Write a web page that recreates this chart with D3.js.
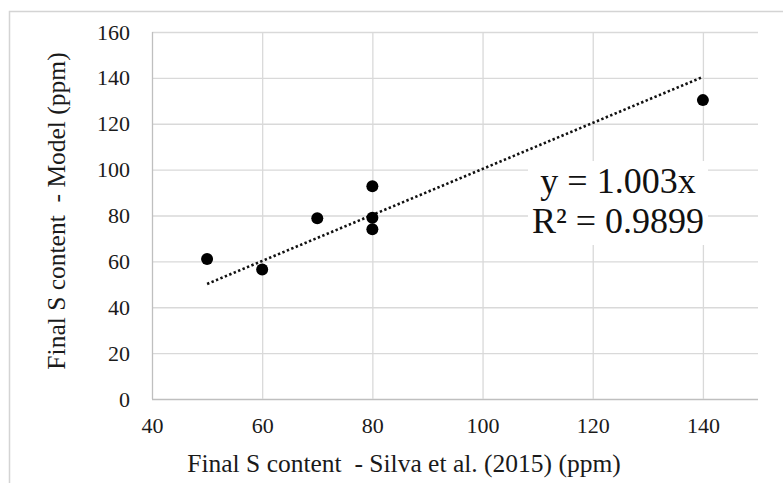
<!DOCTYPE html>
<html>
<head>
<meta charset="utf-8">
<script src="https://cdn.jsdelivr.net/npm/d3@7"></script>
<style>
body{margin:0;background:#fff;}
</style>
</head>
<body>
<svg id="chart" width="783" height="483"></svg>
<script>
// data
var silva = [50, 60, 70, 80, 80, 80, 140];
var model = [61, 56.5, 78.8, 92.8, 79, 74, 130.3];
var xTicks = [40, 60, 80, 100, 120, 140];
var yTicks = [0, 20, 40, 60, 80, 100, 120, 140, 160];
var slope = 1.003;
var eqLines = ["y = 1.003x", "R² = 0.9899"];

var FONT = "'Liberation Serif', 'Times New Roman', serif";
var svg = d3.select("#chart");
var pLeft = 152, pRight = 758, pTop = 32, pBottom = 399;

// outer frame (cut off at right and bottom)
svg.append("path")
	.attr("d", "M9.5,490 V11.5 H790")
	.attr("fill", "none")
	.attr("stroke", "#d4d4d4")
	.attr("stroke-width", 1.5);

var x = d3.scaleLinear().domain([40, 150]).range([pLeft, pRight]);
var y = d3.scaleLinear().domain([0, 160]).range([pBottom, pTop]);

// grid
svg.append("g")
	.selectAll("line")
	.data(yTicks)
	.enter()
	.append("line")
	.attr("x1", pLeft).attr("x2", pRight)
	.attr("y1", function(d){ return y(d)+0.5; })
	.attr("y2", function(d){ return y(d)+0.5; })
	.attr("stroke", function(d){ return d==0 ? "#bfbfbf" : "#d9d9d9"; })
	.attr("stroke-width", 1.3);

svg.append("g")
	.selectAll("line")
	.data(xTicks)
	.enter()
	.append("line")
	.attr("y1", pTop).attr("y2", pBottom)
	.attr("x1", function(d){ return x(d)+0.5; })
	.attr("x2", function(d){ return x(d)+0.5; })
	.attr("stroke", function(d){ return d==40 ? "#bfbfbf" : "#d9d9d9"; })
	.attr("stroke-width", 1.3);

// axes (labels only)
var xAxis = svg.append("g")
	.attr("transform", "translate(0," + pBottom + ")")
	.call(d3.axisBottom(x).tickValues(xTicks).tickSize(0).tickPadding(18));
var yAxis = svg.append("g")
	.attr("transform", "translate(" + pLeft + ",0)")
	.call(d3.axisLeft(y).tickValues(yTicks).tickSize(0).tickPadding(22));
[xAxis, yAxis].forEach(function(a){
	a.select(".domain").remove();
	a.attr("font-family", null).attr("font-size", null);
	a.selectAll("text")
		.style("font-family", FONT)
		.style("font-size", "22px")
		.attr("fill", "#1a1a1a");
});

// trendline
svg.append("line")
	.attr("x1", x(50)).attr("y1", y(50*slope))
	.attr("x2", x(140)).attr("y2", y(140*slope))
	.attr("stroke", "#111")
	.attr("stroke-width", 2.6)
	.attr("stroke-dasharray", "2.4,2.4");

// points
svg.append("g")
	.selectAll("circle")
	.data(silva)
	.enter()
	.append("circle")
	.attr("cx", function(d){ return x(d); })
	.attr("cy", function(d, i){ return y(model[i]); })
	.attr("r", 6)
	.attr("fill", "#000");

// equation box
svg.append("rect")
	.attr("x", 528).attr("y", 161)
	.attr("width", 180).attr("height", 84)
	.attr("fill", "#fff");
svg.append("g")
	.selectAll("text")
	.data(eqLines)
	.enter()
	.append("text")
	.attr("x", 618)
	.attr("y", function(d, i){ return 193 + i*40; })
	.attr("text-anchor", "middle")
	.style("font-family", FONT)
	.style("font-size", "36px")
	.attr("fill", "#111")
	.text(function(d){ return d; });

// axis titles
svg.append("text")
	.attr("x", 404).attr("y", 472)
	.attr("text-anchor", "middle")
	.style("font-family", FONT)
	.style("font-size", "25.5px")
	.style("white-space", "pre")
	.attr("fill", "#1a1a1a")
	.text("Final S content  - Silva et al. (2015) (ppm)");
svg.append("text")
	.attr("transform", "translate(65,211) rotate(-90)")
	.attr("text-anchor", "middle")
	.style("font-family", FONT)
	.style("font-size", "25.5px")
	.style("white-space", "pre")
	.attr("fill", "#1a1a1a")
	.text("Final S content  - Model (ppm)");
</script>
</body>
</html>
